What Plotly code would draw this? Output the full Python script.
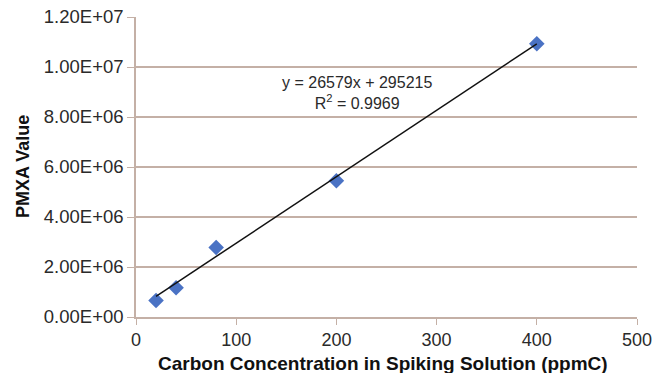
import plotly.graph_objects as go

# Calibration data: spiking solution carbon concentration vs. PMXA response
conc_ppmc = [20, 40, 80, 200, 400]
pmxa_value = [0.66e6, 1.17e6, 2.78e6, 5.45e6, 10.93e6]

# Linear fit reported for the calibration
slope = 26579
intercept = 295215
r_squared = 0.9969

y_ticks = [0, 2e6, 4e6, 6e6, 8e6, 10e6, 12e6]
x_ticks = [0, 100, 200, 300, 400, 500]

grid_col = "#c4b0a6"
text_col = "#2a2a2a"
font_family = "Arial, Liberation Sans, sans-serif"

W, H = 668, 373
L, R, T, B = 136, 31, 17, 56
plot_w, plot_h = W - L - R, H - T - B

fit_x = [min(conc_ppmc), max(conc_ppmc)]
fit_y = [slope * x + intercept for x in fit_x]

fig = go.Figure()
fig.add_trace(go.Scatter(
    x=conc_ppmc, y=pmxa_value, mode="markers",
    marker=dict(symbol="diamond", size=12, color="#4a72c4"),
    showlegend=False, cliponaxis=False,
))
fig.add_trace(go.Scatter(
    x=fit_x, y=fit_y, mode="lines",
    line=dict(color="#111111", width=1.5),
    showlegend=False,
))

# Fit equation label
fig.add_annotation(
    x=(357 - L) / plot_w, y=(H - B - 93) / plot_h, xref="paper", yref="paper",
    xanchor="center", yanchor="middle", showarrow=False,
    text=f"y = {slope}x + {intercept}<br>R<sup>2</sup> = {r_squared}",
    font=dict(family=font_family, size=16, color=text_col),
    align="center",
)

# Axis titles
fig.add_annotation(
    x=(383 - L) / plot_w, y=-(363 - (H - B)) / plot_h, xref="paper", yref="paper",
    xanchor="center", yanchor="middle", showarrow=False,
    text="<b>Carbon Concentration in Spiking Solution (ppmC)</b>",
    font=dict(family=font_family, size=19, color="#111111"),
)
fig.add_annotation(
    x=-(L - 23) / plot_w, y=(H - B - 167) / plot_h, xref="paper", yref="paper",
    xanchor="center", yanchor="middle", showarrow=False, textangle=-90,
    text="<b>PMXA Value</b>",
    font=dict(family=font_family, size=18, color="#111111"),
)

fig.update_layout(
    width=W, height=H,
    margin=dict(l=L, r=R, t=T, b=B),
    paper_bgcolor="white", plot_bgcolor="white",
    font=dict(family=font_family, color=text_col),
    xaxis=dict(
        range=[0, 500], tickvals=x_ticks, ticktext=[str(v) for v in x_ticks],
        showgrid=False, zeroline=False, automargin=False,
        showline=True, linecolor=grid_col, linewidth=1.5,
        ticks="outside", ticklen=6, tickcolor=grid_col,
        tickfont=dict(size=18, color=text_col),
    ),
    yaxis=dict(
        range=[0, 1.2e7], tickvals=y_ticks,
        ticktext=[f"{v:.2E}" for v in y_ticks],
        showgrid=True, gridcolor=grid_col, gridwidth=1.5,
        zeroline=False, automargin=False,
        showline=True, linecolor=grid_col, linewidth=1.5,
        ticks="outside", ticklen=7, tickcolor=grid_col,
        tickfont=dict(size=18.5, color=text_col),
    ),
)

fig.write_html("out.html")
